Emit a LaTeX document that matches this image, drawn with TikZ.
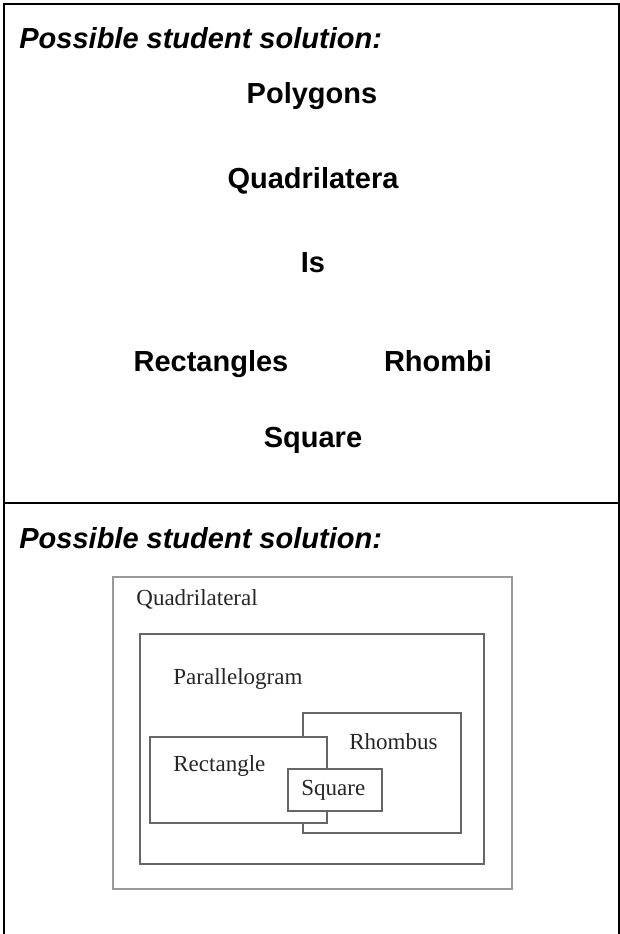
\documentclass[tikz,border=0pt]{standalone}
\usepackage{fontspec}
\setmainfont{Liberation Serif}
\newfontfamily\arialfont{Liberation Sans}
\usepackage{tikz}

\begin{document}
\begin{tikzpicture}[x=0.5pt,y=-0.5pt,
    frame/.style={line width=1pt},
    head/.style={anchor=base west,inner sep=0pt,font=\arialfont\fontsize{14.5}{17}\selectfont\bfseries\itshape},
    word/.style={anchor=base,inner sep=0pt,font=\arialfont\fontsize{14.5}{17}\selectfont\bfseries},
    box/.style={draw=black!60,line width=0.7pt},
    lbl/.style={anchor=base west,inner sep=0pt,text=black!85,font=\fontsize{11.5}{14}\selectfont}]
  \useasboundingbox (0,0) rectangle (620,934);
  % table frame
  \draw[frame] (4,934) -- (4,4) -- (619,4) -- (619,934);
  \draw[frame] (4,503) -- (619,503);

  % top cell
  \node[head] (h1)   at (19,48)   {Possible student solution:};
  \node[word] (poly) at (312,103) {Polygons};
  \node[word] (quad) at (313,188) {Quadrilatera};
  \node[word] (is)   at (313,272) {Is};
  \node[word] (rect) at (211,371) {Rectangles};
  \node[word] (rhom) at (438,371) {Rhombi};
  \node[word] (sq)   at (313,447) {Square};

  % bottom cell: nested boxes
  \node[head] (h2) at (19,548) {Possible student solution:};
  \draw[box,draw=black!40] (113,577) rectangle (512,889);
  \draw[box] (140,634) rectangle (484,864);
  \draw[box] (303,713) rectangle (461,833);
  \draw[box,fill=white] (150,737) rectangle (327,823);
  \draw[box,fill=white] (288,769) rectangle (382,811);
  \node[lbl] (lquad) at (136,605) {Quadrilateral};
  \node[lbl] (lpar)  at (173,684) {Parallelogram};
  \node[lbl] (lrhom) at (349,749) {Rhombus};
  \node[lbl] (lrect) at (173,771) {Rectangle};
  \node[lbl] (lsq)   at (301,795) {Square};
\end{tikzpicture}
\end{document}
